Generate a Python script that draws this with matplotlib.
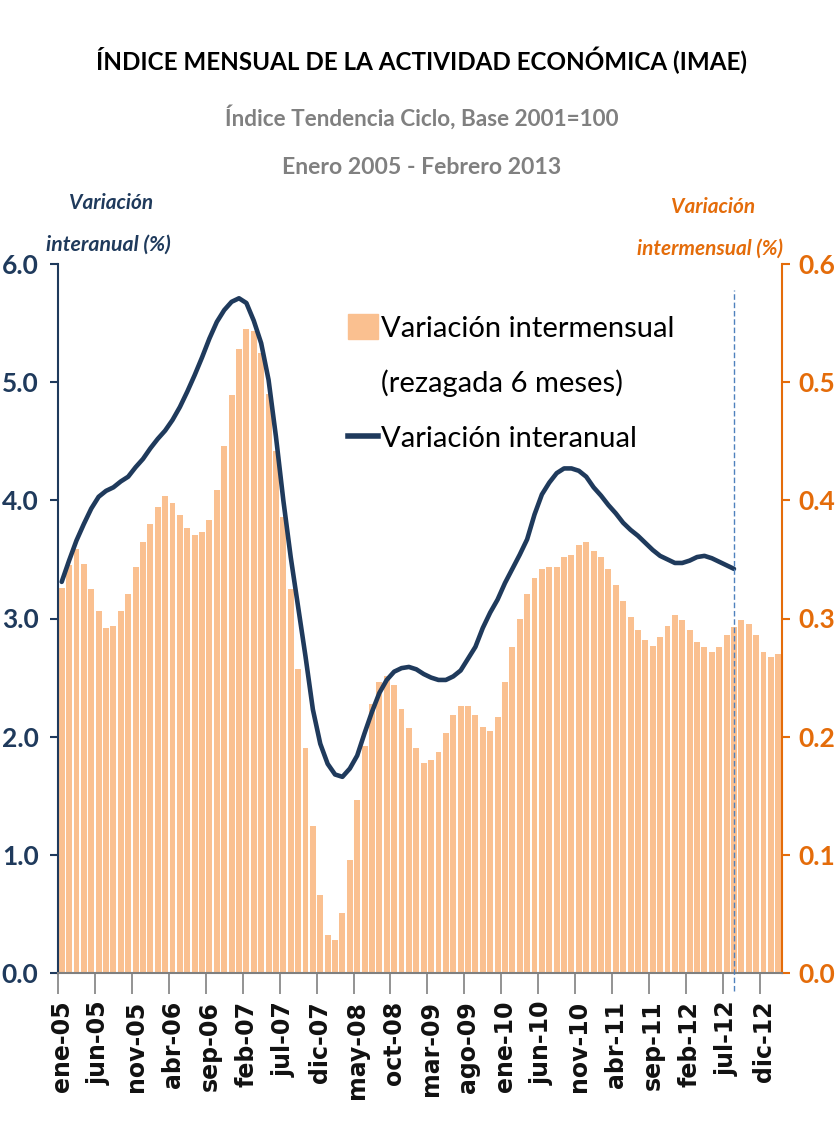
import numpy as np
import matplotlib.pyplot as plt
from matplotlib.patches import Patch
from matplotlib.lines import Line2D

FONT = ['Lato', 'DejaVu Sans']
plt.rcParams['font.family'] = FONT

NAVY = '#1F3A5C'
ORANGE = '#E46C0A'
BAR = '#FAC090'
GRAY = '#808080'

# meses ene-05 .. feb-13
meses = ['ene', 'feb', 'mar', 'abr', 'may', 'jun', 'jul', 'ago', 'sep', 'oct', 'nov', 'dic']
etiquetas = [f'{m}-{a:02d}' for a in range(5, 14) for m in meses][:98]

# variacion intermensual (rezagada 6 meses), eje derecho
intermensual = [0.326, 0.345, 0.359, 0.346, 0.325, 0.306, 0.292, 0.294, 0.306, 0.321,
                0.344, 0.365, 0.380, 0.394, 0.404, 0.398, 0.388, 0.377, 0.371, 0.373,
                0.383, 0.409, 0.446, 0.489, 0.528, 0.545, 0.543, 0.525, 0.490, 0.442,
                0.386, 0.325, 0.257, 0.190, 0.124, 0.066, 0.032, 0.028, 0.051, 0.096,
                0.146, 0.192, 0.228, 0.246, 0.251, 0.244, 0.223, 0.207, 0.190, 0.178,
                0.180, 0.187, 0.203, 0.218, 0.226, 0.226, 0.218, 0.208, 0.205, 0.217,
                0.246, 0.276, 0.300, 0.321, 0.334, 0.342, 0.344, 0.344, 0.352, 0.354,
                0.362, 0.365, 0.357, 0.352, 0.342, 0.328, 0.315, 0.301, 0.290, 0.282,
                0.277, 0.284, 0.294, 0.303, 0.299, 0.290, 0.280, 0.276, 0.272, 0.276,
                0.286, 0.293, 0.299, 0.295, 0.286, 0.272, 0.267, 0.270]

# variacion interanual, eje izquierdo (ene-05 .. ago-12)
interanual = [3.31, 3.49, 3.66, 3.80, 3.93, 4.03, 4.08, 4.11, 4.16, 4.20,
              4.28, 4.35, 4.44, 4.52, 4.59, 4.68, 4.79, 4.92, 5.06, 5.21,
              5.37, 5.51, 5.61, 5.68, 5.71, 5.67, 5.52, 5.33, 5.02, 4.54,
              4.00, 3.52, 3.10, 2.68, 2.23, 1.94, 1.77, 1.68, 1.66, 1.73,
              1.84, 2.03, 2.21, 2.37, 2.48, 2.55, 2.58, 2.59, 2.57, 2.53,
              2.50, 2.48, 2.48, 2.51, 2.56, 2.66, 2.76, 2.92, 3.05, 3.16,
              3.30, 3.42, 3.54, 3.67, 3.88, 4.05, 4.15, 4.23, 4.27, 4.27,
              4.25, 4.20, 4.11, 4.04, 3.96, 3.89, 3.81, 3.75, 3.70, 3.64,
              3.58, 3.53, 3.50, 3.47, 3.47, 3.49, 3.52, 3.53, 3.51, 3.48,
              3.45, 3.42]

x_bar = np.arange(len(intermensual))
x_lin = np.arange(len(interanual))

fig = plt.figure(figsize=(8.35, 11.38), dpi=100)
renderer = fig.canvas.get_renderer()


def texto(x_px, y_px, s, ancho_px, **kw):
    # ajusta el tamaño de letra para que el texto ocupe ancho_px
    t = fig.text(x_px / 835, 1 - y_px / 1138, s, ha='center', va='center',
                 fontsize=10, **kw)
    w = t.get_window_extent(renderer).width
    t.set_fontsize(10 * ancho_px / w)
    return t


ax = fig.add_axes([58 / 835, 1 - 973 / 1138, 724 / 835, 709 / 1138])
ax2 = ax.twinx()

ax2.bar(x_bar, intermensual, width=0.8, color=BAR, zorder=1)
ax.plot(x_lin, interanual, color=NAVY, lw=3.3, solid_capstyle='round', zorder=5)
ax.set_zorder(ax2.get_zorder() + 1)
ax.patch.set_visible(False)

# linea vertical punteada en el ultimo dato de la serie interanual
ax.axvline(x_lin[-1], ymin=-0.025, ymax=5.78 / 6, color='#4F81BD', lw=1,
           ls=(0, (4, 2)), clip_on=False, zorder=6)

ax.set_xlim(-0.5, len(intermensual) - 0.5)
ax.set_ylim(0, 6)
ax2.set_ylim(0, 0.6)

ax.set_yticks(np.arange(0, 6.1, 1.0))
ax.set_yticklabels([f'{v:.1f}' for v in np.arange(0, 6.1, 1.0)])
ax2.set_yticks(np.arange(0, 0.61, 0.1))
ax2.set_yticklabels([f'{v:.1f}' for v in np.arange(0, 0.61, 0.1)])

ax.tick_params(axis='y', colors=NAVY, length=6, width=1.5, pad=8,
               labelsize=19)
for t in ax.get_yticklabels():
    t.set_fontweight('bold')
ax2.tick_params(axis='y', colors=ORANGE, length=6, width=1.5, pad=6,
                labelsize=19)
for t in ax2.get_yticklabels():
    t.set_fontweight('bold')

# eje x: marcas cada 5 meses entre categorias, etiquetas en el centro
ax.set_xticks(np.arange(0, len(intermensual), 5) - 0.5)
ax.set_xticklabels([])
ax.tick_params(axis='x', which='major', length=15, width=1.2, color=GRAY)
ax.set_xticks(np.arange(0, len(intermensual), 5), minor=True)
ax.set_xticklabels(etiquetas[::5], minor=True, rotation=90,
                   fontsize=17, fontweight='bold', family='DejaVu Sans')
ax.tick_params(axis='x', which='minor', length=0, pad=20, labelcolor='#111111')

for a in (ax, ax2):
    a.spines['top'].set_visible(False)
ax.spines['left'].set_color(NAVY)
ax.spines['left'].set_linewidth(1.5)
ax.spines['right'].set_visible(False)
ax.spines['bottom'].set_color(GRAY)
ax.spines['bottom'].set_linewidth(1.5)
ax2.spines['left'].set_visible(False)
ax2.spines['bottom'].set_visible(False)
ax2.spines['right'].set_color(ORANGE)
ax2.spines['right'].set_linewidth(1.5)

# leyenda: la segunda linea del texto va sin simbolo
fs_ley = 21
px = fs_ley * 100 / 72
handles = [Patch(color=BAR), Patch(alpha=0), Line2D([], [], color=NAVY, lw=4)]
labels = ['Variación intermensual', '(rezagada 6 meses)', 'Variación interanual']
ax.legend(handles, labels, loc='upper left', bbox_to_anchor=(0.40, 0.929),
          frameon=False, fontsize=fs_ley, handlelength=30 / px,
          handleheight=27 / px, handletextpad=0.1, labelspacing=0.95,
          borderpad=0, borderaxespad=0)

# titulos
texto(421, 60, 'ÍNDICE MENSUAL DE LA ACTIVIDAD ECONÓMICA (IMAE)', 650,
      fontweight='bold', color='black')
texto(422, 117, 'Índice Tendencia Ciclo, Base 2001=100', 395,
      fontweight='bold', color=GRAY)
texto(422, 168, 'Enero 2005 - Febrero 2013', 280,
      fontweight='bold', color=GRAY)

texto(111, 203, 'Variación', 84, fontweight='bold', style='italic', color=NAVY)
texto(108, 245, 'interanual (%)', 125, fontweight='bold', style='italic', color=NAVY)
texto(713, 207, 'Variación', 84, fontweight='bold', style='italic', color=ORANGE)
texto(710, 249, 'intermensual (%)', 146, fontweight='bold', style='italic', color=ORANGE)

fig.savefig('out.png', dpi=100, facecolor='white')
